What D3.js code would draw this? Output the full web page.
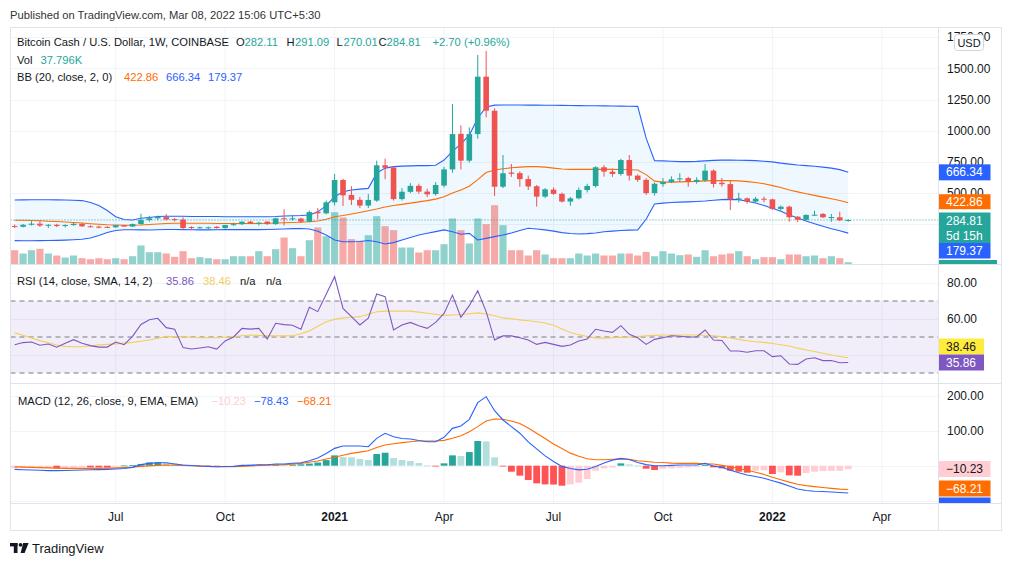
<!DOCTYPE html>
<html><head><meta charset="utf-8">
<script src="https://cdn.jsdelivr.net/npm/d3@7"></script>
<style>
body{margin:0;background:#fff;}
svg text{font-family:'Liberation Sans',Arial,sans-serif;}
</style></head><body>
<svg id="c" width="1012" height="566"></svg>
<script>
// ---------- DATA ----------
const dates=["2020-04-13","2020-04-20","2020-04-27","2020-05-04","2020-05-11","2020-05-18","2020-05-25","2020-06-01","2020-06-08","2020-06-15",
"2020-06-22","2020-06-29","2020-07-06","2020-07-13","2020-07-20","2020-07-27","2020-08-03","2020-08-10","2020-08-17","2020-08-24",
"2020-08-31","2020-09-07","2020-09-14","2020-09-21","2020-09-28","2020-10-05","2020-10-12","2020-10-19","2020-10-26","2020-11-02",
"2020-11-09","2020-11-16","2020-11-23","2020-11-30","2020-12-07","2020-12-14","2020-12-21","2020-12-28","2021-01-04","2021-01-11",
"2021-01-18","2021-01-25","2021-02-01","2021-02-08","2021-02-15","2021-02-22","2021-03-01","2021-03-08","2021-03-15","2021-03-22",
"2021-03-29","2021-04-05","2021-04-12","2021-04-19","2021-04-26","2021-05-03","2021-05-10","2021-05-17","2021-05-24","2021-05-31",
"2021-06-07","2021-06-14","2021-06-21","2021-06-28","2021-07-05","2021-07-12","2021-07-19","2021-07-26","2021-08-02","2021-08-09",
"2021-08-16","2021-08-23","2021-08-30","2021-09-06","2021-09-13","2021-09-20","2021-09-27","2021-10-04","2021-10-11","2021-10-18",
"2021-10-25","2021-11-01","2021-11-08","2021-11-15","2021-11-22","2021-11-29","2021-12-06","2021-12-13","2021-12-20","2021-12-27",
"2022-01-03","2022-01-10","2022-01-17","2022-01-24","2022-01-31","2022-02-07","2022-02-14","2022-02-21","2022-02-28","2022-03-07"];
const open=[236,230,246,255,240,246,236,244,254,234, 231,229,226,243,232,252,284,298,308,292, 288,228,224,223,230,220,244,251,271,258,
271,252,298,290,296,271,350,338,426,605, 485,446,400,440,723,705,452,510,558,512, 492,560,690,975,760,973,1433,1160,551,665,
660,612,555,472,528,494,432,458,525,557, 707,672,653,765,640,606,500,572,588,610, 620,590,602,680,583,572,450,458,432,455,
450,373,391,311,286,323,333,305,306,282.11];
const high=[248,252,275,282,252,254,250,262,262,242, 240,236,245,246,256,335,318,320,333,300, 306,234,232,232,236,246,262,275,276,270,
276,302,370,320,302,360,380,440,653,615, 555,470,493,760,776,715,540,580,575,535, 588,710,1214,1043,1027,1607,1638,1180,805,733,
675,640,565,540,545,505,470,545,575,715, 725,695,775,805,650,620,585,620,635,659, 630,627,733,690,621,600,503,465,470,472,
455,400,400,316,330,359,340,333,351,291.09];
const low=[220,225,240,228,220,228,226,238,228,226, 218,220,222,228,228,248,272,283,281,272, 205,210,214,206,215,214,238,244,252,240,
245,245,240,278,262,266,290,330,400,397, 405,380,380,430,611,440,440,500,495,468, 480,545,663,690,745,936,1107,476,540,630,
551,525,392,460,485,425,398,450,505,545, 632,630,640,600,590,485,480,551,580,590, 551,575,590,545,551,365,425,415,425,426,
365,360,271,268,278,317,300,271,275,270.01];
const close=[230,246,255,240,246,236,244,254,234,231, 225,226,243,232,252,284,298,308,288,288, 220,224,226,226,220,244,251,271,258,263,
252,298,290,298,271,348,338,426,605,482, 446,400,445,723,703,452,511,558,512,490, 565,690,973,760,973,1433,1160,551,659,655,
612,553,472,530,494,432,458,525,557,707, 672,653,765,640,606,500,575,590,610,618, 592,606,680,573,571,450,458,432,455,448,
373,391,306,286,325,327,306,308,282.11,284.81];
const volumeK=[238,183,238,262,183,150,117,150,105,88, 105,88,105,88,138,317,205,205,183,128, 222,105,122,105,88,88,138,138,138,222,
138,255,450,272,138,405,617,472,872,783, 422,395,488,805,638,572,283,283,200,238, 238,338,767,572,350,767,672,988,655,238,
238,150,238,167,105,105,105,183,150,183, 150,150,183,183,150,210,138,222,183,155, 167,128,238,138,167,183,222,138,88,122,
122,88,167,167,138,150,105,138,105,37.796];
const bbUpper=[445,446,447,447,447,446,445,443,440,425, 400,360,310,288,285,298,305,312,315,315, 314,313,312,312,312,311,310,310,310,310,
310,312,316,318,320,325,350,400,471,511, 525,532,538,660,700,712,716,718,720,720, 723,765,835,895,965,1100,1190,1205,1206,1206,
1206,1205,1205,1204,1204,1203,1202,1201,1200,1200, 1199,1198,1197,1196,1195,940,760,758,755,752, 752,754,758,762,764,765,763,762,760,755,
750,740,732,725,720,715,708,700,688,666.34];
const bbBasis=[282,282,280,278,275,272,268,264,260,255, 250,246,244,242,242,244,248,252,256,258, 258,258,258,258,257,256,256,256,256,256,
258,260,262,264,266,270,276,290,310,320, 332,345,358,372,388,400,410,420,430,440, 452,470,500,525,555,608,665,685,695,703,
708,712,712,708,700,693,690,690,690,690, 690,690,689,687,685,648,596,588,588,590, 592,594,598,600,600,600,598,592,585,575,
560,545,525,510,495,482,468,455,440,422.86];
const bbLower=[119,118,118,119,120,121,123,126,130,140, 160,185,200,206,206,205,204,206,208,208, 207,206,205,205,206,207,207,207,207,207,
208,210,212,215,216,212,195,164,124,110, 110,112,120,110,92,103,124,145,164,178, 191,205,191,170,177,124,137,151,164,180,
200,218,212,205,195,183,176,172,175,180, 190,195,200,203,205,290,413,420,425,428, 430,433,437,443,448,450,448,435,420,400,
378,355,325,300,276,255,235,215,198,179.37];
const rsi=[45.7,46.9,47.2,45.4,46.1,44.3,46.5,48.5,46.5,45.2, 44.4,44.4,47.2,45.7,50.4,57.0,59.6,60.4,55.2,54.3,
44.1,43.3,43.9,44.6,43.3,47.8,50.0,54.8,54.4,54.8, 48.9,57.6,56.9,56.5,54.3,66.5,64.1,73.7,83.5,65.9,
61.3,56.7,60.4,73.9,72.4,53.9,56.7,58.1,56.3,54.8, 58.1,63.1,73.3,60.9,67.4,75.7,64.1,48.3,50.6,50.6,
49.6,48.3,45.9,47.0,45.9,44.8,45.6,47.8,48.9,54.3, 53.3,52.6,56.3,51.5,49.6,45.9,48.7,49.6,50.7,50.4,
50.0,50.0,53.9,48.3,48.1,42.2,42.2,41.5,42.4,42.4, 39.1,39.6,35.0,34.8,37.8,38.5,36.9,36.9,35.7,35.86];
const rsiMA=[52.3,51.0,49.5,48.0,46.8,45.6,44.8,44.6,44.6,45.0, 45.6,45.9,46.2,46.6,47.0,47.6,48.3,49.3,50.2,50.3,
50.2,49.9,49.6,49.6,49.6,49.9,50.2,50.7,51.1,50.9, 50.7,50.6,50.6,50.7,51.8,53.4,56.0,58.5,59.8,60.6,
61.0,61.3,62.6,64.0,64.4,64.4,64.4,64.4,63.8,63.2, 62.6,62.0,62.2,62.5,62.9,63.4,62.8,61.8,60.6,60.1,
59.5,59.0,58.5,57.8,56.5,54.5,52.5,51.3,50.3,49.5, 49.4,49.6,49.8,50.0,50.3,50.6,50.9,51.1,51.1,51.1,
51.1,51.1,51.0,50.7,50.2,49.4,48.7,47.9,47.4,47.0, 46.4,45.7,45.0,43.8,42.8,41.9,41.0,40.0,39.2,38.46];
const macd=[-10.6,-11.5,-12.3,-13.0,-14.0,-14.2,-13.8,-13.2,-12.3,-11.8, -11.3,-10.6,-9.5,-8.0,-4.7,3.0,6.7,8.6,8.6,5.0,
1.9,0.5,-1.0,-1.8,-2.9,-2.5,-2.0,1.0,1.0,2.9, 2.9,4.8,4.8,7.0,8.6,14.0,22.0,35.0,49.7,56.4,
56.4,56.4,54.5,78.4,92.7,83.1,78.0,76.5,72.0,68.8, 68.8,81.2,107.0,113.7,132.8,180.6,197.8,157.7,131.0,112.0,
93.0,68.0,48.0,28.0,12.0,-2.0,-8.0,-12.0,-10.0,-2.0, 8.0,16.0,21.0,18.0,9.0,3.0,0.0,0.0,1.0,2.0,
2.0,2.0,6.7,-1.0,-4.7,-13.0,-20.0,-26.7,-31.0,-36.0, -43.0,-50.0,-58.0,-67.0,-71.0,-73.0,-74.0,-75.5,-77.0,-78.43];
const signal=[-3.5,-4.2,-4.8,-5.5,-6.3,-7.0,-7.6,-7.8,-7.8,-7.7, -7.6,-7.0,-6.2,-5.2,-4.0,-2.0,-0.5,1.0,1.9,1.5,
0.5,-0.3,-1.0,-2.0,-2.9,-2.9,-2.9,-2.0,-1.0,1.0, 1.5,2.5,2.9,4.5,6.7,10.0,13.4,19.0,24.0,30.0,
35.4,39.0,43.0,52.0,59.3,63.0,66.0,68.5,70.8,70.8, 70.8,72.5,78.4,86.0,97.5,112.0,128.0,134.0,133.0,128.0,
121.0,108.0,93.0,78.0,62.0,49.0,36.0,27.0,20.0,17.0, 17.0,18.5,19.0,18.0,14.0,12.0,10.0,9.0,7.5,6.7,
6.7,6.7,5.5,4.8,1.0,-3.0,-8.0,-13.0,-19.0,-25.0, -33.0,-40.0,-47.0,-53.0,-57.0,-60.0,-62.5,-65.0,-67.0,-68.21];
const hist=[-7.5,-7.2,-7.0,-6.8,-6.5,-7.5,-6.8,-6.0,-4.8,-5.0, -5.2,-5.4,-1.5,0.5,1.5,5.0,9.5,10.0,9.0,6.5,
3.0,1.0,-0.5,-1.0,-1.5,-1.2,-1.0,2.0,2.5,2.5, 2.0,3.0,2.8,3.0,4.0,6.0,9.0,16.0,29.6,24.8,
23.9,19.1,16.3,33.4,37.2,21.9,16.3,13.4,7.6,0.5, -1.9,6.7,29.6,27.6,39.1,70.8,69.5,23.9,-1.0,-17.2,
-28.6,-41.0,-50.6,-53.5,-54.0,-57.3,-53.5,-48.7,-38.2,-14.3, -7.6,-4.8,6.7,3.8,0.5,-8.6,-12.4,-8.6,-7.6,-6.0,
-4.8,-4.0,1.9,-4.8,-7.6,-14.3,-17.2,-20.0,-14.3,-13.0, -23.9,-19.0,-27.6,-28.6,-21.0,-17.2,-15.5,-15.0,-14.5,-10.23];
const priceTicks=[250,500,750,1000,1250,1500,1750];
const priceTickLabels=["250.00","500.00","750.00","1000.00","1250.00","1500.00","1750.00"];
const rsiTicks=[40,60,80];
const rsiTickLabels=["40.00","60.00","80.00"];
const rsiLevels=[70,50,30];
const macdTicks=[-100,0,100,200];
const macdTickLabels=["-100.00","0.00","100.00","200.00"];
const timeTicks=["2020-07-06","2020-10-05","2021-01-04","2021-04-05","2021-07-05","2021-10-04","2022-01-03","2022-04-04"];
const timeTickLabels=["Jul","Oct","2021","Apr","Jul","Oct","2022","Apr"];

// ---------- LAYOUT ----------
const L=10.5,R=1001.5,AX=938.5,TOP=27.5,S1=264.5,S2=383.5,TT=503.5,BOT=530.5;
const UP='#26a69a',DN='#ef5350',BLUE='#2962ff',ORANGE='#ff6d00',PURPLE='#7e57c2',YEL='#f2cf5b';
const svg=d3.select('#c');
const parse=d3.utcParse('%Y-%m-%d');
const D=dates.map(parse);
const idx=d3.range(D.length);
const x=d3.scaleUtc().domain([D[0],D[D.length-1]]).range([14.66,848.2]);
const yP=d3.scaleLinear().domain([0,1750]).range([255.5,37.1]);
const yV=d3.scaleLinear().domain([0,1000]).range([S1,S1-60]);
const yR=d3.scaleLinear().domain([30,70]).range([373,301]);
const yM=d3.scaleLinear().domain([0,200]).range([465.7,395.9]);
const grid='#f0f3fa', border='#e0e3eb', txt='#131722';

svg.append('rect').attr('width',1012).attr('height',566).attr('fill','#fff');
const defs=svg.append('defs');
function clip(id,y0,y1){defs.append('clipPath').attr('id',id).append('rect').attr('x',L).attr('y',y0).attr('width',AX-L).attr('height',y1-y0);}
clip('cm',TOP,S1);clip('cr',S1,S2);clip('cd',S2,TT);

// vertical grid
svg.append('g').selectAll('line').data(timeTicks).join('line')
 .attr('x1',d=>x(parse(d))).attr('x2',d=>x(parse(d))).attr('y1',TOP).attr('y2',TT)
 .attr('stroke',grid).attr('stroke-width',1);
// horizontal grids
svg.append('g').selectAll('line').data(priceTicks).join('line')
 .attr('x1',L).attr('x2',AX).attr('y1',d=>Math.round(yP(d))+0.5).attr('y2',d=>Math.round(yP(d))+0.5).attr('stroke',grid);
svg.append('g').selectAll('line').data(rsiTicks).join('line')
 .attr('x1',L).attr('x2',AX).attr('y1',d=>Math.round(yR(d))+0.5).attr('y2',d=>Math.round(yR(d))+0.5).attr('stroke',grid);
svg.append('g').selectAll('line').data(macdTicks).join('line')
 .attr('x1',L).attr('x2',AX).attr('y1',d=>Math.round(yM(d))+0.5).attr('y2',d=>Math.round(yM(d))+0.5).attr('stroke',grid);

// ---------- MAIN PANE ----------
const gm=svg.append('g').attr('clip-path','url(#cm)');
gm.append('path').datum(idx).attr('fill','rgba(33,150,243,0.07)')
 .attr('d',d3.area().x(i=>x(D[i])).y0(i=>yP(bbLower[i])).y1(i=>yP(bbUpper[i])));
// volume
gm.append('g').selectAll('rect').data(idx).join('rect')
 .attr('x',i=>x(D[i])-3.6).attr('width',7.2)
 .attr('y',i=>yV(volumeK[i])).attr('height',i=>yV(0)-yV(volumeK[i]))
 .attr('fill',i=>close[i]>=open[i]?'rgba(38,166,154,0.5)':'rgba(239,83,80,0.5)');
const bbLine=arr=>d3.line().x(i=>x(D[i])).y(i=>yP(arr[i]));
gm.append('path').datum(idx).attr('d',bbLine(bbUpper)).attr('fill','none').attr('stroke',BLUE).attr('stroke-width',1.1);
gm.append('path').datum(idx).attr('d',bbLine(bbLower)).attr('fill','none').attr('stroke',BLUE).attr('stroke-width',1.1);
gm.append('path').datum(idx).attr('d',bbLine(bbBasis)).attr('fill','none').attr('stroke',ORANGE).attr('stroke-width',1.1);
// last price line
gm.append('line').attr('x1',L).attr('x2',AX).attr('y1',yP(close[99])).attr('y2',yP(close[99]))
 .attr('stroke',UP).attr('stroke-dasharray','1,2').attr('stroke-width',1);
// candles
const cg=gm.append('g');
cg.selectAll('line').data(idx).join('line')
 .attr('x1',i=>x(D[i])).attr('x2',i=>x(D[i])).attr('y1',i=>yP(high[i])).attr('y2',i=>yP(low[i]))
 .attr('stroke',i=>close[i]>=open[i]?UP:DN).attr('stroke-width',1);
cg.selectAll('rect').data(idx).join('rect')
 .attr('x',i=>x(D[i])-2.8).attr('width',5.6)
 .attr('y',i=>yP(Math.max(open[i],close[i])))
 .attr('height',i=>Math.max(1,Math.abs(yP(open[i])-yP(close[i]))))
 .attr('fill',i=>close[i]>=open[i]?UP:DN);

// ---------- RSI PANE ----------
const gr=svg.append('g').attr('clip-path','url(#cr)');
gr.append('rect').attr('x',L).attr('width',AX-L).attr('y',yR(70)).attr('height',yR(30)-yR(70)).attr('fill','rgba(126,87,194,0.1)');
gr.selectAll('line.lv').data(rsiLevels).join('line').attr('class','lv')
 .attr('x1',L).attr('x2',AX).attr('y1',d=>yR(d)).attr('y2',d=>yR(d))
 .attr('stroke','#787b86').attr('stroke-dasharray','5,4').attr('stroke-width',1);
gr.append('path').datum(idx).attr('fill','none').attr('stroke',YEL).attr('stroke-width',1.1)
 .attr('d',d3.line().x(i=>x(D[i])).y(i=>yR(rsiMA[i])));
gr.append('path').datum(idx).attr('fill','none').attr('stroke',PURPLE).attr('stroke-width',1.1)
 .attr('d',d3.line().x(i=>x(D[i])).y(i=>yR(rsi[i])));

// ---------- MACD PANE ----------
const gd=svg.append('g').attr('clip-path','url(#cd)');
function hcol(i){const h=hist[i],p=i>0?hist[i-1]:h;
 if(h>=0) return h>=p?'#26a69a':'#b2dfdb'; return h<p?'#ff5252':'#ffcdd2';}
gd.selectAll('rect').data(idx).join('rect')
 .attr('x',i=>x(D[i])-3.4).attr('width',6.8)
 .attr('y',i=>Math.min(yM(0),yM(hist[i]))).attr('height',i=>Math.max(0.8,Math.abs(yM(hist[i])-yM(0))))
 .attr('fill',hcol);
gd.append('path').datum(idx).attr('fill','none').attr('stroke',ORANGE).attr('stroke-width',1.1)
 .attr('d',d3.line().x(i=>x(D[i])).y(i=>yM(signal[i])));
gd.append('path').datum(idx).attr('fill','none').attr('stroke',BLUE).attr('stroke-width',1.1)
 .attr('d',d3.line().x(i=>x(D[i])).y(i=>yM(macd[i])));

// ---------- FRAME ----------
const fr=svg.append('g').attr('stroke',border).attr('fill','none');
fr.append('rect').attr('x',L).attr('y',TOP).attr('width',R-L).attr('height',BOT-TOP);
fr.append('line').attr('x1',AX).attr('x2',AX).attr('y1',TOP).attr('y2',BOT);
[S1,S2,TT].forEach(y=>fr.append('line').attr('x1',L).attr('x2',R).attr('y1',y).attr('y2',y));

// ---------- AXES ----------
const ax=svg.append('g').attr('font-size',12).attr('fill',txt);
ax.selectAll('text.p').data(priceTicks.slice(1)).join('text').attr('class','p')
 .attr('x',947).attr('y',d=>yP(d)+4.3).text((d,k)=>priceTickLabels[k+1]);
ax.selectAll('text.r').data(rsiTicks.slice(1)).join('text').attr('class','r')
 .attr('x',947).attr('y',d=>yR(d)+4.3).text((d,k)=>rsiTickLabels[k+1]);
ax.selectAll('text.m').data(macdTicks.slice(2)).join('text').attr('class','m')
 .attr('x',947).attr('y',d=>yM(d)+4.3).text((d,k)=>macdTickLabels[k+2]);
ax.selectAll('text.t').data(timeTicks).join('text').attr('class','t')
 .attr('x',d=>x(parse(d))).attr('y',521).attr('text-anchor','middle')
 .attr('font-weight',(d,k)=>/^\d{4}$/.test(timeTickLabels[k])?'bold':'normal')
 .text((d,k)=>timeTickLabels[k]);

// price scale labels (boxes)
function box(y0,h,fill,lines,tcol,w){
 const g=svg.append('g');
 g.append('rect').attr('x',AX+0.5).attr('y',y0).attr('width',w||51.5).attr('height',h).attr('fill',fill);
 lines.forEach((t,k)=>g.append('text').attr('x',946).attr('y',y0+12+k*15).attr('font-size',12).attr('fill',tcol).text(t));
 return g;}
// USD button
svg.append('rect').attr('x',954.5).attr('y',34.5).attr('width',29).attr('height',16).attr('rx',3).attr('fill','#fff').attr('stroke','#d1d4dc');
svg.append('text').attr('x',969).attr('y',46.5).attr('text-anchor','middle').attr('font-size',11).attr('fill',txt).text('USD');

box(yP(bbUpper[99])-8,16,BLUE,[d3.format('.2f')(bbUpper[99])],'#fff');
box(yP(bbBasis[99])-8.5,15,ORANGE,[d3.format('.2f')(bbBasis[99])],'#fff');
box(212.5,30.5,UP,[d3.format('.2f')(close[99]),'5d 15h'],'#fff');
box(243,15.5,BLUE,[d3.format('.2f')(bbLower[99])],'#fff');
svg.append('rect').attr('x',AX+0.5).attr('y',260).attr('width',58).attr('height',S1-260-0.5).attr('fill',UP);
// rsi labels
box(338.5,16,'#ffeb3b',[d3.format('.2f')(rsiMA[99])],txt,45);
box(354.5,16,PURPLE,[d3.format('.2f')(rsi[99])],'#fff',45);
// macd labels
const mf=v=>d3.format('.2f')(v).replace('-','\u2212');
box(461,16,'#ffcdd2',[mf(hist[99])],txt);
box(480.5,16,ORANGE,[mf(signal[99])],'#fff');
svg.append('rect').attr('x',AX+0.5).attr('y',497.5).attr('width',51.5).attr('height',TT-497.5-0.5).attr('fill',BLUE);

// ---------- LEGENDS ----------
const lg=svg.append('g').attr('font-size',11.2);
lg.append('text').attr('x',10).attr('y',19).attr('fill','#333').text('Published on TradingView.com, Mar 08, 2022 15:06 UTC+5:30');
const f2=d3.format('.2f');
function legend(y,parts){const t=lg.append('text').attr('y',y);
 parts.forEach(p=>t.append('tspan').attr('x',p[0]).attr('fill',p[2]).text(p[1]));}
const chg=close[99]-open[99];
legend(46,[[17,'Bitcoin Cash / U.S. Dollar, 1W, COINBASE',txt],[236,'O',txt],[244.5,f2(open[99]),UP],[286.5,'H',txt],[295,f2(high[99]),UP],
 [336.5,'L',txt],[343.5,f2(low[99]),UP],[378.5,'C',txt],[386.5,f2(close[99]),UP],[432.5,'+'+f2(chg)+' (+'+f2(chg/open[99]*100)+'%)',UP]]);
legend(63.5,[[17,'Vol',txt],[40.5,d3.format('.3f')(volumeK[99])+'K',UP]]);
legend(80.5,[[17,'BB (20, close, 2, 0)',txt],[124,f2(bbBasis[99]),ORANGE],[166,f2(bbUpper[99]),BLUE],[208,f2(bbLower[99]),BLUE]]);
legend(285,[[17,'RSI (14, close, SMA, 14, 2)',txt],[166,f2(rsi[99]),PURPLE],[203,f2(rsiMA[99]),YEL],[240,'n/a',txt],[266,'n/a',txt]]);
legend(405,[[18,'MACD (12, 26, close, 9, EMA, EMA)',txt],[211.5,mf(hist[99]),'#ffcdd2'],[254,mf(macd[99]),BLUE],[297,mf(signal[99]),ORANGE]]);

// ---------- LOGO ----------
const lo=svg.append('g').attr('fill',txt);
lo.append('rect').attr('x',10).attr('y',543).attr('width',7.5).attr('height',3.4);
lo.append('rect').attr('x',13.8).attr('y',543).attr('width',3.7).attr('height',10);
lo.append('circle').attr('cx',20.6).attr('cy',544.8).attr('r',1.9);
lo.append('path').attr('d','M23.2,543 L28.6,543 L24.6,553 L20.6,553 Z');
svg.append('text').attr('x',32).attr('y',552.5).attr('font-size',13).attr('fill',txt).text('TradingView');
</script>
</body></html>
